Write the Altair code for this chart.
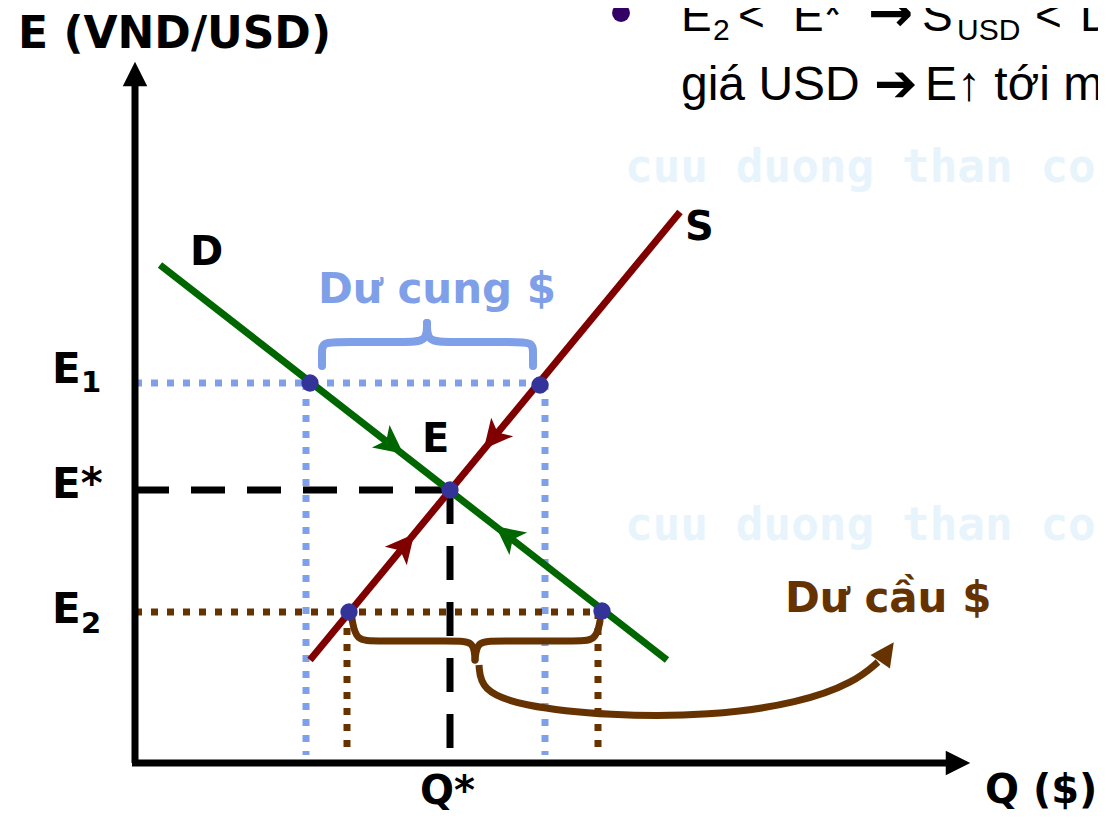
import altair as alt
import pandas as pd

# ---------------- data (diagram units: Q to the right, E downward-screen) -------------
E1, E_STAR, E2 = 383, 490, 612          # exchange-rate levels
Q_STAR = 450                            # equilibrium quantity
AXIS_ORIGIN = (135, 763)
AXIS_TOP = 80
AXIS_RIGHT = 950

# demand (D) and supply (S) curve end points
D_q = [160, 667]
D_e = [265, 660]
S_q = [310, 680]
S_e = [660, 212]

# marked points on the curves
pt_q = [310, 540, 450, 349, 602]
pt_e = [383, 385, 490, 612, 611]

# direction arrowheads on the curves
arr_q = [392, 507, 493, 405]
arr_e = [445, 535, 438, 545]
arr_ang = [38, 218, 130, 310]
arr_col = ["#006600", "#006600", "#800000", "#800000"]

# reference lines
blue_x = [135, 306, 545]
blue_y = [E1, E1, E1]
blue_x2 = [548, 306, 545]
blue_y2 = [E1, 755, 755]

brown_x = [135, 347, 598]
brown_y = [E2, E2, E2]
brown_x2 = [602, 347, 598]
brown_y2 = [E2, 752, 752]

black_x = [135, Q_STAR]
black_y = [E_STAR, E_STAR]
black_x2 = [Q_STAR, Q_STAR]
black_y2 = [E_STAR, 763]

# braces and curved arrow (control points)
blue_brace_q = [322, 322, 322, 345, 405, 427, 427,   427, 427, 449, 510, 533, 533, 533]
blue_brace_e = [366, 352, 342, 342, 342, 342, 323,   323, 342, 342, 342, 342, 352, 366]
blue_brace_part = ["a"] * 7 + ["b"] * 7

brown_brace_q = [352, 356, 375, 455, 474, 475,   475, 477, 496, 575, 596, 600]
brown_brace_e = [619, 641, 641, 641, 641, 660,   660, 641, 641, 641, 641, 621]
brown_brace_part = ["a"] * 6 + ["b"] * 6

curve_q = [479, 481, 520, 610, 710, 800, 855, 878]
curve_e = [665, 690, 706, 716, 716, 703, 682, 662]

# text labels
bold_txt = ["E (VND/USD)", "E", "E*", "E", "D", "S", "E", "Q*", "Q ($)"]
bold_q = [18, 52, 52, 52, 190, 685, 422, 420, 985]
bold_e = [48, 383, 498, 623, 265, 240, 452, 804, 803]
bold_size = [44, 42, 42, 42, 40, 40, 40, 40, 40]

sub_txt = ["1", "2"]
sub_q = [81, 81]
sub_e = [392, 633]

note_txt = ["Dư cung $", "Dư cầu $"]
note_q = [318, 785]
note_e = [303, 612]
note_col = ["#7f9fe8", "#663300"]

wm_txt = ["cuu duong than cong . com", "cuu duong than cong . com"]
wm_q = [625, 625]
wm_e = [182, 540]

top_txt = ["E", "2", "<", "E*", "S", "USD", "<", "D", "giá USD", "E↑ tới m"]
top_q = [681, 713, 738, 793, 922, 957, 1035, 1080, 681, 925]
top_e = [31, 40, 31, 31, 31, 40, 31, 31, 100, 100]
top_size = [46, 30, 46, 46, 46, 30, 46, 46, 48, 48]

sym_txt = ["→", "➔"]
sym_q = [868, 874]
sym_e = [31, 101]
sym_size = [54, 52]

# ---------------- chart -------------
W, H = 1090, 807
X = dict(scale=alt.Scale(domain=[8, 8 + W], nice=False, zero=False), axis=None)
Y = dict(scale=alt.Scale(domain=[8, 8 + H], nice=False, zero=False, reverse=True), axis=None)


def xe(f="q"):
    return alt.X(f"{f}:Q", **X)


def ye(f="e"):
    return alt.Y(f"{f}:Q", **Y)


def segs(xs, ys, x2s, y2s):
    return pd.DataFrame({"q": xs, "e": ys, "q2": x2s, "e2": y2s})


wm = alt.Chart(pd.DataFrame({"q": wm_q, "e": wm_e, "t": wm_txt})).mark_text(
    font="DejaVu Sans Mono", fontSize=46, fontWeight="bold", color="#e8f4fc", align="left", baseline="alphabetic"
).encode(x=xe(), y=ye(), text="t:N")


def rule_layer(df, color, dash, width=7):
    return alt.Chart(df).mark_rule(color=color, strokeDash=dash, strokeWidth=width, strokeCap="butt").encode(
        x=xe(), y=ye(), x2="q2:Q", y2="e2:Q"
    )


blue = rule_layer(segs(blue_x, blue_y, blue_x2, blue_y2), "#7f9fe8", [7, 9])
brown = rule_layer(segs(brown_x, brown_y, brown_x2, brown_y2), "#663300", [7, 9])
black = rule_layer(segs(black_x, black_y, black_x2, black_y2), "black", [34, 22])

axes = alt.Chart(
    segs([AXIS_ORIGIN[0], AXIS_ORIGIN[0] - 3], [AXIS_ORIGIN[1], AXIS_ORIGIN[1]],
         [AXIS_ORIGIN[0], AXIS_RIGHT], [AXIS_TOP, AXIS_ORIGIN[1]])
).mark_rule(color="black", strokeWidth=7, strokeCap="butt").encode(x=xe(), y=ye(), x2="q2:Q", y2="e2:Q")

axis_heads = alt.Chart(
    pd.DataFrame({"q": [AXIS_ORIGIN[0], AXIS_RIGHT + 8], "e": [AXIS_TOP - 6, AXIS_ORIGIN[1]], "a": [0, 90]})
).mark_point(shape="M0,-1L1,1L-1,1Z", size=600, filled=True, color="black", opacity=1).encode(
    x=xe(), y=ye(), angle=alt.Angle("a:Q", scale=None)
)

curves = alt.Chart(
    pd.DataFrame({"q": [D_q[0], S_q[0]], "e": [D_e[0], S_e[0]], "q2": [D_q[1], S_q[1]],
                  "e2": [D_e[1], S_e[1]], "c": ["#006600", "#800000"]})
).mark_rule(strokeWidth=7, strokeCap="butt").encode(
    x=xe(), y=ye(), x2="q2:Q", y2="e2:Q", color=alt.Color("c:N", scale=None)
)

heads = alt.Chart(pd.DataFrame({"q": arr_q, "e": arr_e, "a": arr_ang, "c": arr_col})).mark_point(
    shape="M1,0L-1,-1L-0.5,0L-1,1Z", size=820, filled=True, opacity=1
).encode(x=xe(), y=ye(), angle=alt.Angle("a:Q", scale=None), color=alt.Color("c:N", scale=None))

bbrace = alt.Chart(pd.DataFrame({"q": blue_brace_q, "e": blue_brace_e, "p": blue_brace_part})).mark_line(
    color="#7f9fe8", strokeWidth=8, interpolate="basis", strokeCap="round"
).encode(x=xe(), y=ye(), detail="p:N", order=alt.Order("i:Q")).transform_window(i="row_number()")

rbrace = alt.Chart(pd.DataFrame({"q": brown_brace_q, "e": brown_brace_e, "p": brown_brace_part})).mark_line(
    color="#663300", strokeWidth=7, interpolate="basis", strokeCap="round"
).encode(x=xe(), y=ye(), detail="p:N", order=alt.Order("i:Q")).transform_window(i="row_number()")

curve = alt.Chart(pd.DataFrame({"q": curve_q, "e": curve_e})).mark_line(
    color="#663300", strokeWidth=7, interpolate="basis", strokeCap="butt"
).encode(x=xe(), y=ye(), order=alt.Order("i:Q")).transform_window(i="row_number()")

curve_head = alt.Chart(pd.DataFrame({"q": [887], "e": [652], "a": [-55 + 360]})).mark_point(
    shape="M1,0L-1,-1L-1,1Z", size=560, filled=True, color="#663300", opacity=1
).encode(x=xe(), y=ye(), angle=alt.Angle("a:Q", scale=None))

points = alt.Chart(pd.DataFrame({"q": pt_q, "e": pt_e})).mark_point(
    shape="circle", size=300, filled=True, color="#333399", opacity=1
).encode(x=xe(), y=ye())

bold = alt.Chart(pd.DataFrame({"q": bold_q, "e": bold_e, "t": bold_txt, "s": bold_size})).mark_text(
    font="DejaVu Sans", fontWeight="bold", color="black", align="left", baseline="alphabetic"
).encode(x=xe(), y=ye(), text="t:N", size=alt.Size("s:Q", scale=None))

subs = alt.Chart(pd.DataFrame({"q": sub_q, "e": sub_e, "t": sub_txt})).mark_text(
    font="DejaVu Sans", fontWeight="bold", fontSize=29, color="black", align="left", baseline="alphabetic"
).encode(x=xe(), y=ye(), text="t:N")

notes = alt.Chart(pd.DataFrame({"q": note_q, "e": note_e, "t": note_txt, "c": note_col})).mark_text(
    font="DejaVu Sans", fontWeight="bold", fontSize=42, align="left", baseline="alphabetic"
).encode(x=xe(), y=ye(), text="t:N", color=alt.Color("c:N", scale=None))

top = alt.Chart(pd.DataFrame({"q": top_q, "e": top_e, "t": top_txt, "s": top_size})).mark_text(
    font="Liberation Sans", color="black", align="left", baseline="alphabetic"
).encode(x=xe(), y=ye(), text="t:N", size=alt.Size("s:Q", scale=None))

sym = alt.Chart(pd.DataFrame({"q": sym_q, "e": sym_e, "t": sym_txt, "s": sym_size})).mark_text(
    font="DejaVu Sans", fontWeight="bold", color="black", align="left", baseline="alphabetic"
).encode(x=xe(), y=ye(), text="t:N", size=alt.Size("s:Q", scale=None))

bullet = alt.Chart(pd.DataFrame({"q": [621], "e": [13]})).mark_point(
    shape="circle", size=320, filled=True, color="#330066", opacity=1
).encode(x=xe(), y=ye())

chart = alt.layer(
    wm, blue, brown, black, axes, axis_heads, curves, heads, bbrace, rbrace, curve, curve_head,
    points, bold, subs, notes, top, sym, bullet
).properties(width=W, height=H, padding=0, autosize=alt.AutoSizeParams(type="none")).configure_view(stroke=None)

chart.save("out.html", embed_options={"renderer": "svg", "actions": False})
